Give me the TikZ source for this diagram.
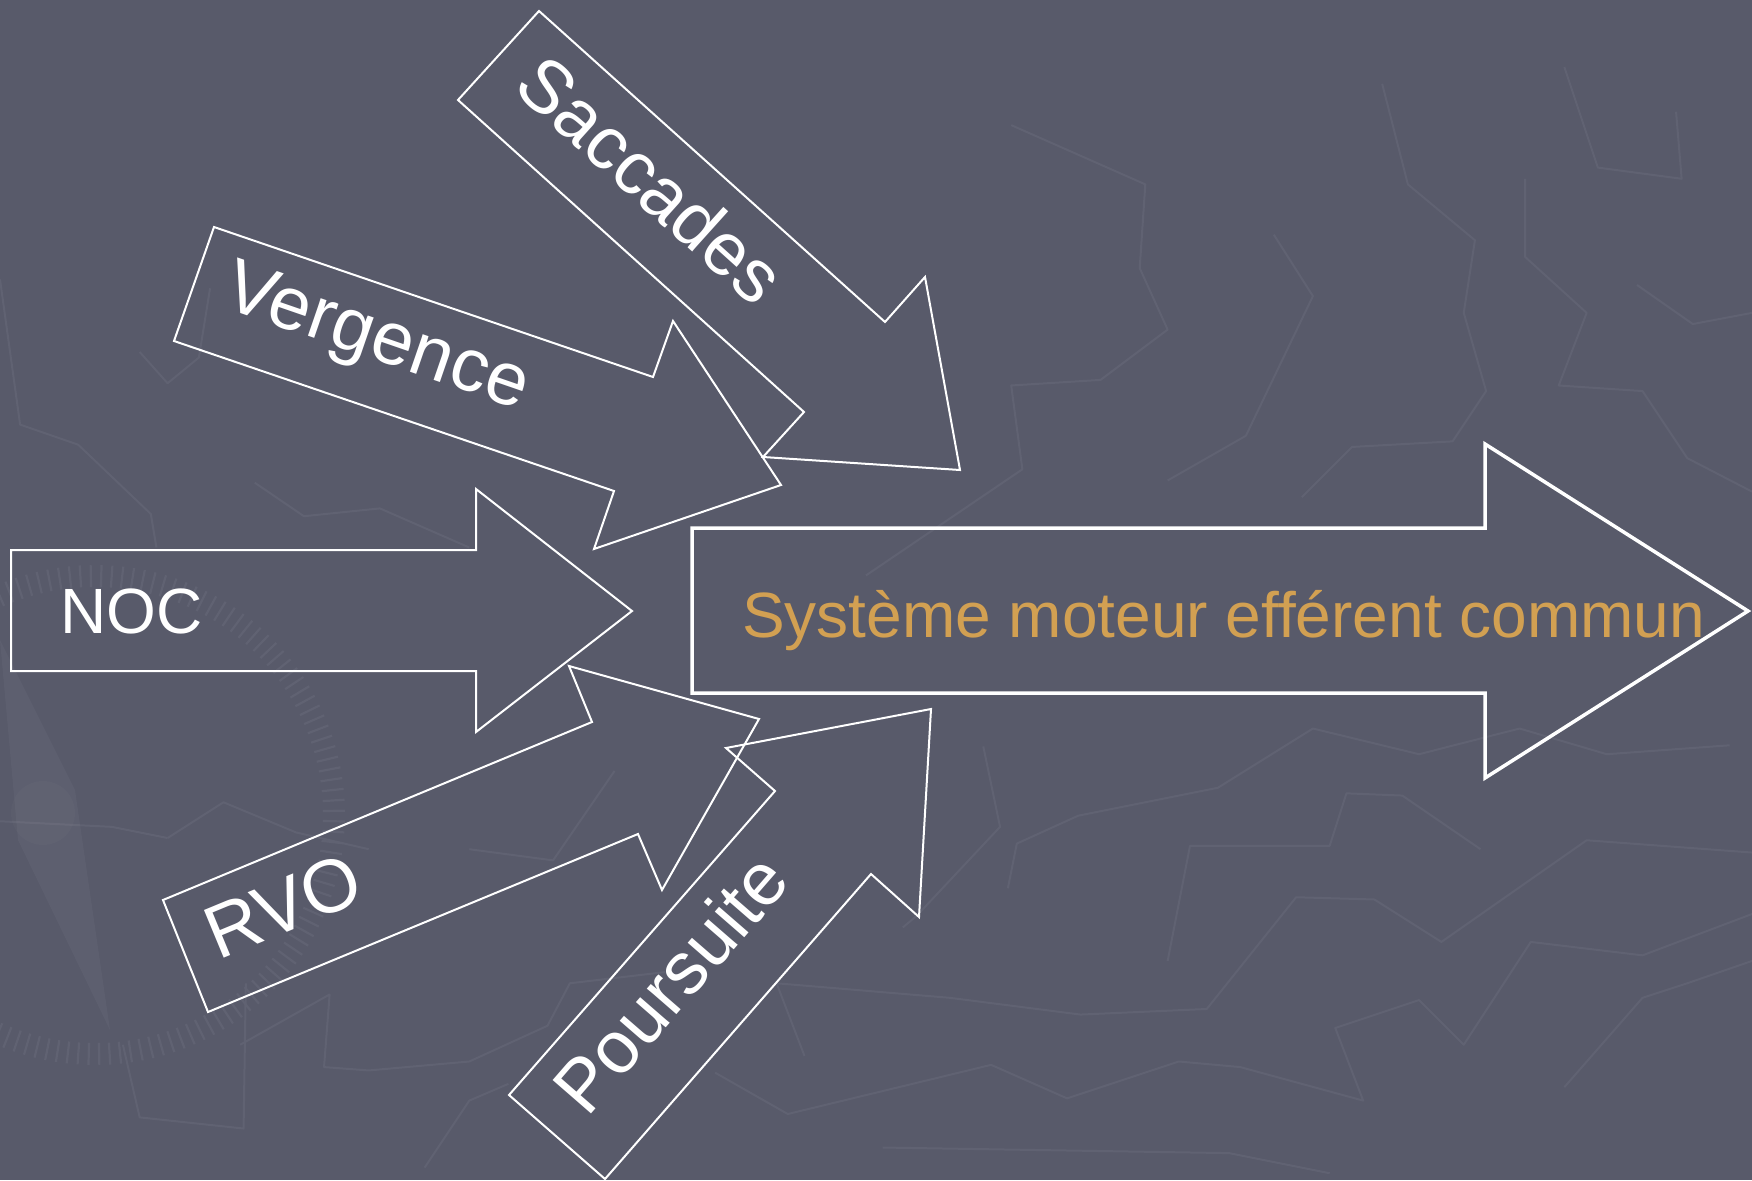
\documentclass[tikz,border=0pt]{standalone}
\usepackage{fontspec}
\setmainfont{Liberation Sans}
\definecolor{bg}{RGB}{88,90,106}
\definecolor{bgline}{RGB}{96,98,114}
\definecolor{gold}{RGB}{210,160,82}
\begin{document}
\begin{tikzpicture}[x=1pt,y=-1pt,
  arrowshape/.style={draw=white,line width=2pt,line join=miter},
  bigarrow/.style={draw=white,line width=3.5pt,line join=miter},
  lbl/.style={text=white,inner sep=0pt,font=\fontsize{#1}{#1}\selectfont},
  bgl/.style={draw=bgline,line width=2pt,line join=round},
  tickmark/.style={draw=bgline,line width=2.2pt}]
\fill[bg] (0,0) rectangle (1752,1180);
\useasboundingbox (0,0) rectangle (1752,1180);

% faint background texture
\begin{scope}[scale=1.11735]
\draw[bgl] (905,112) -- (1025,165) -- (1020,240) -- (1045,295) -- (985,340) -- (905,345) -- (915,420) -- (775,515);
\draw[bgl] (1237,75) -- (1260,165) -- (1320,215) -- (1310,280) -- (1330,350) -- (1300,395) -- (1210,400) -- (1165,445);
\draw[bgl] (1045,430) -- (1115,390) -- (1175,265) -- (1140,210);
\draw[bgl] (1365,160) -- (1365,230) -- (1420,280) -- (1395,345) -- (1470,350) -- (1510,410) -- (1568,440);
\draw[bgl] (1400,60) -- (1430,150) -- (1505,160) -- (1500,100);
\draw[bgl] (1465,255) -- (1515,290) -- (1568,280);
\draw[bgl] (640,960) -- (705,997) -- (887,953) -- (955,983) -- (1055,950) -- (1110,955) -- (1220,985) -- (1195,920) -- (1270,895) -- (1310,935) -- (1370,843) -- (1470,855) -- (1568,818);
\draw[bgl] (790,1027) -- (1100,1032) -- (1190,1050);
\draw[bgl] (1400,973) -- (1470,893) -- (1510,880) -- (1568,860);
\draw[bgl] (720,945) -- (695,880) -- (850,893) -- (967,908) -- (1080,903) -- (1160,803) -- (1230,805) -- (1290,843) -- (1420,752) -- (1568,763);
\draw[bgl] (902,795) -- (910,755) -- (965,730) -- (1090,705) -- (1175,652) -- (1270,675) -- (1360,652) -- (1438,675) -- (1548,667);
\draw[bgl] (1045,860) -- (1065,757) -- (1190,757) -- (1205,710) -- (1255,712) -- (1325,760);
\draw[bgl] (880,668) -- (895,740) -- (820,820) -- (808,830);
\draw[bgl] (0,250) -- (18,380) -- (70,398) -- (135,460) -- (140,490);
\draw[bgl] (125,315) -- (150,343) -- (178,320) -- (188,258);
\draw[bgl] (228,432) -- (272,462) -- (340,455) -- (420,490);
\draw[bgl] (215,935) -- (295,890) -- (290,955) -- (330,958) -- (420,950) -- (490,918) -- (510,880) -- (595,870);
\draw[bgl] (110,935) -- (125,1000) -- (218,1010) -- (220,880);
\draw[bgl] (380,1045) -- (420,985) -- (455,970);
\draw[bgl] (550,690) -- (495,770) -- (420,760);
\draw[bgl] (150,750) -- (200,718) -- (265,745) -- (330,760);
\draw[bgl] (0,735) -- (100,740) -- (150,750);
\end{scope}
% faint compass
\fill[white,opacity=0.035] (0,640) -- (75,790) -- (110,1030) -- (18,840) -- cycle;
\fill[white,opacity=0.02] (43,813) circle (32);
\foreach \a in {-124,-121.5,...,116}
  \draw[tickmark] ({95+228*cos(\a)},{815-228*sin(\a)}) -- ({95+250*cos(\a)},{815-250*sin(\a)});

% input arrows
\draw[arrowshape] (539,11) -- (885,322) -- (925,277) -- (960,470) -- (763,457) -- (804,412) -- (458,100) -- cycle;
\draw[arrowshape] (214,227) -- (653,377) -- (673,321) -- (781,485) -- (594,549) -- (614,491) -- (174,341) -- cycle;
\draw[arrowshape] (11,550) -- (476,550) -- (476,489) -- (632,611) -- (476,732) -- (476,671) -- (11,671) -- cycle;
\draw[arrowshape] (163,900) -- (208,1012) -- (638,834) -- (662,890) -- (759,719) -- (569,666) -- (592,722) -- cycle;
\draw[arrowshape] (509,1095) -- (605,1179) -- (871,874) -- (919,917) -- (931,709) -- (726,748) -- (775,791) -- cycle;
% output arrow
\draw[bigarrow] (692,528) -- (1485,528) -- (1485,444) -- (1748,611) -- (1485,778) -- (1485,693) -- (692,693) -- cycle;

% labels
\node[lbl=64,anchor=base west] (noc) at (60,633) {NOC};
\node[lbl=64,anchor=base west,text=gold] (sys) at (742,637) {Système moteur efférent commun};
\node[lbl=74.5,rotate=-42] (sacc) at (651,179) {Saccades};
\node[lbl=75,rotate=-19] (verg) at (376,341) {Vergence};
\node[lbl=75,rotate=22.5] (rvo) at (283,906) {RVO};
\node[lbl=74,rotate=49] (pours) at (670,983) {Poursuite};
\end{tikzpicture}
\end{document}
